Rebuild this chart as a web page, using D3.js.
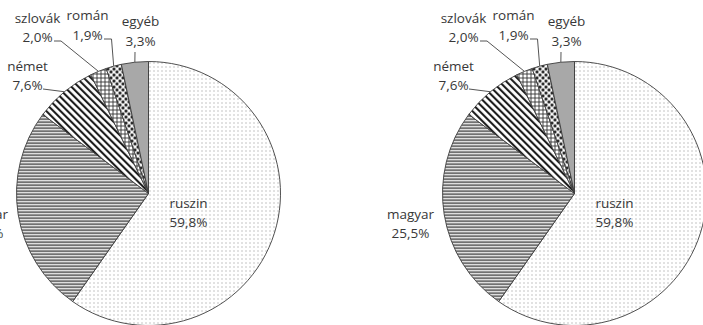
<!DOCTYPE html>
<html>
<head>
<meta charset="utf-8">
<script src="https://cdn.jsdelivr.net/npm/d3@7"></script>
<style>
  html, body { margin: 0; padding: 0; background: #fff; }
  svg { display: block; }
  text { font-family: "Open Sans", Lato, sans-serif; font-size: 13.5px; fill: #383838; }
</style>
</head>
<body>
<svg id="chart" width="703" height="325"></svg>
<script>
// Nemzetiségi megoszlás (%)
const categories = ["ruszin", "magyar", "német", "szlovák", "román", "egyéb"];
const values = [59.8, 25.5, 7.6, 2.0, 1.9, 3.3];
const valueLabels = ["59,8%", "25,5%", "7,6%", "2,0%", "1,9%", "3,3%"];

// Fill pattern for each category
const fills = ["url(#p-dots)", "url(#p-hlines)", "url(#p-diag)", "url(#p-grid)", "url(#p-diamond)", "#a8a8a8"];

// Label placement relative to the pie centre: name/value anchor and leader start/elbow
const labelLayout = [
  { x: 40,   yName: 14.5,   yVal: 33.5,   leader: null },
  { x: -164, yName: 25.5,   yVal: 44.5,   leader: null },
  { x: -121, yName: -122.5, yVal: -103.5, leader: [[-105.5, -104.5]] },
  { x: -111, yName: -170.5, yVal: -151.5, leader: [[-94.5, -152.5], [-87.5, -152.5]] },
  { x: -61,  yName: -173.5, yVal: -153.5, leader: [[-44.5, -154.5], [-37, -154.5]] },
  { x: -8,   yName: -167.5, yVal: -147.5, leader: [[-13.5, -141.5]] }
];

const svg = d3.select("#chart");
const defs = svg.append("defs");

// sparse dots
const pDots = defs.append("pattern").attr("id", "p-dots").attr("patternUnits", "userSpaceOnUse")
  .attr("width", 4).attr("height", 4);
pDots.append("rect").attr("width", 4).attr("height", 4).attr("fill", "#fff");
pDots.append("rect").attr("x", 1).attr("y", 1).attr("width", 1).attr("height", 1).attr("fill", "#8c8c8c");

// horizontal lines
const pH = defs.append("pattern").attr("id", "p-hlines").attr("patternUnits", "userSpaceOnUse")
  .attr("width", 6).attr("height", 3);
pH.append("rect").attr("width", 6).attr("height", 3).attr("fill", "#fff");
pH.append("rect").attr("y", 0).attr("width", 6).attr("height", 1.3).attr("fill", "#262626");

// wide downward diagonal stripes
const pD = defs.append("pattern").attr("id", "p-diag").attr("patternUnits", "userSpaceOnUse")
  .attr("width", 5).attr("height", 5).attr("patternTransform", "rotate(-45)");
pD.append("rect").attr("width", 5).attr("height", 5).attr("fill", "#fff");
pD.append("rect").attr("x", 0).attr("width", 2.1).attr("height", 5).attr("fill", "#1e1e1e");

// small grid
const pG = defs.append("pattern").attr("id", "p-grid").attr("patternUnits", "userSpaceOnUse")
  .attr("width", 4).attr("height", 4);
pG.append("rect").attr("width", 4).attr("height", 4).attr("fill", "#fff");
pG.append("rect").attr("x", 0).attr("y", 0).attr("width", 4).attr("height", 0.9).attr("fill", "#333");
pG.append("rect").attr("x", 0).attr("y", 0).attr("width", 0.9).attr("height", 4).attr("fill", "#333");

// solid diamonds
const pM = defs.append("pattern").attr("id", "p-diamond").attr("patternUnits", "userSpaceOnUse")
  .attr("width", 6).attr("height", 6);
pM.append("rect").attr("width", 6).attr("height", 6).attr("fill", "#fff");
pM.append("path").attr("d", "M1.5,-0.4 L3.4,1.5 L1.5,3.4 L-0.4,1.5Z M4.5,2.6 L6.4,4.5 L4.5,6.4 L2.6,4.5Z").attr("fill", "#0a0a0a");

const radius = 132;
const pie = d3.pie().sort(null).value(d => d)
  .startAngle(0).endAngle(2 * Math.PI);
const arc = d3.arc().innerRadius(0).outerRadius(radius);

function drawPie(cx, cy) {
  const g = svg.append("g").attr("transform", `translate(${cx},${cy})`);
  const arcs = pie(values);

  g.selectAll("path.slice").data(arcs).join("path")
    .attr("class", "slice")
    .attr("d", arc)
    .attr("fill", (d, i) => fills[i])
    .attr("stroke", "#3c3c3c")
    .attr("stroke-width", 0.9)
    .attr("stroke-linejoin", "round");

  // leader lines to the outer mid-point of each small slice
  arcs.forEach((a, i) => {
    const lay = labelLayout[i];
    if (!lay.leader) return;
    const mid = (a.startAngle + a.endAngle) / 2;
    const end = [radius * Math.sin(mid), -radius * Math.cos(mid)];
    g.append("path")
      .attr("d", d3.line()(lay.leader.concat([end])))
      .attr("fill", "none")
      .attr("stroke", "#555")
      .attr("stroke-width", 1);
  });

  const lbl = g.selectAll("g.lbl").data(arcs).join("g").attr("class", "lbl");
  lbl.append("text")
    .attr("x", (d, i) => labelLayout[i].x)
    .attr("y", (d, i) => labelLayout[i].yName)
    .attr("text-anchor", "middle")
    .text((d, i) => categories[i]);
  lbl.append("text")
    .attr("x", (d, i) => labelLayout[i].x)
    .attr("y", (d, i) => labelLayout[i].yVal)
    .attr("text-anchor", "middle")
    .text((d, i) => valueLabels[i]);
}

drawPie(148.5, 193.5);
drawPie(574.5, 193.5);
</script>
</body>
</html>
